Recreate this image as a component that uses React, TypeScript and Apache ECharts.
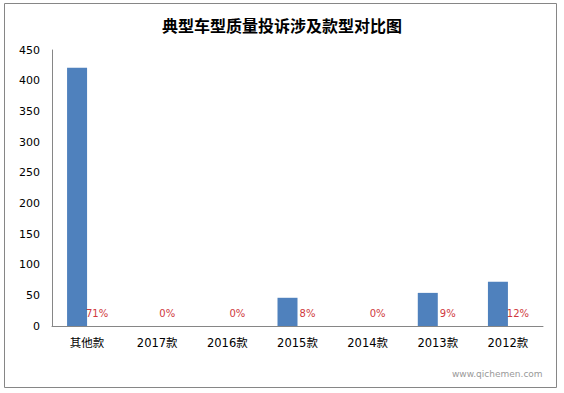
import React, { useEffect, useRef } from "react";
import * as echarts from "echarts";

const title = "典型车型质量投诉涉及款型对比图";
const categories = ["其他款", "2017款", "2016款", "2015款", "2014款", "2013款", "2012款"];
const complaints = [421, 0, 0, 46, 0, 54, 72];
const shares = ["71%", "0%", "0%", "8%", "0%", "9%", "12%"];
const yTicks = { min: 0, max: 450, interval: 50 };

const FONT = "'DejaVu Sans', 'Noto Sans CJK SC', sans-serif";

export default function App() {
  const ref = useRef<HTMLDivElement>(null);
  useEffect(() => {
    if (!ref.current) return;
    const chart = echarts.init(ref.current, undefined, { renderer: "svg" });
    chart.setOption({
      animation: false,
      backgroundColor: "#fff",
      title: {
        text: title,
        left: "center",
        top: 12,
        textStyle: { fontSize: 16, fontWeight: "bold", color: "#000", fontFamily: "'Noto Sans CJK SC', sans-serif" },
      },
      graphic: [
        {
          type: "rect",
          shape: { x: 4.5, y: 3.5, width: 552, height: 384 },
          style: { fill: "none", stroke: "#868686", lineWidth: 1 },
          silent: true,
        },
        {
          type: "text",
          x: 452,
          y: 369,
          style: { text: "www.qichemen.com", fill: "#999", fontSize: 9, fontFamily: FONT },
          silent: true,
        },
      ],
      grid: { left: 52, right: 21, top: 50, bottom: 67 },
      xAxis: {
        type: "category",
        data: categories,
        axisLine: { lineStyle: { color: "#868686" } },
        axisTick: { show: false },
        axisLabel: { color: "#000", fontSize: 11.5, margin: 11, fontFamily: FONT },
      },
      yAxis: {
        type: "value",
        min: yTicks.min,
        max: yTicks.max,
        interval: yTicks.interval,
        splitLine: { show: false },
        axisLine: { show: true, lineStyle: { color: "#868686" } },
        axisTick: { show: false },
        axisLabel: { color: "#000", fontSize: 11, margin: 12, fontFamily: FONT },
      },
      series: [
        {
          type: "bar",
          data: complaints,
          barWidth: 20,
          barGap: "0%",
          itemStyle: { color: "#4f81bd" },
        },
        {
          type: "bar",
          data: complaints.map(() => 0),
          barWidth: 20,
          itemStyle: { color: "transparent" },
          label: {
            show: true,
            position: "top",
            distance: 8,
            formatter: (p: any) => shares[p.dataIndex],
            color: "#d0393d",
            fontSize: 10,
            fontFamily: FONT,
          },
        },
      ],
    });
    return () => chart.dispose();
  }, []);
  return <div ref={ref} style={{ position: "fixed", left: 0, top: 0, width: 564, height: 393 }} />;
}
